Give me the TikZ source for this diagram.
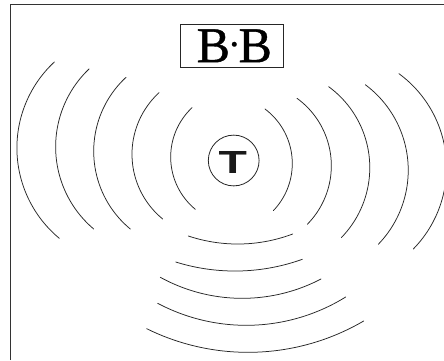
\documentclass[tikz,border=0pt]{standalone}
\usepackage{fontspec}
\usepackage{graphicx}
\setmainfont{Liberation Serif}
\newfontfamily\tfont{Liberation Sans}
\newfontfamily\titlefont[FakeBold=0.8]{Liberation Serif}
\tikzset{wave/.style={draw=black!85,line width=0.75pt,line cap=round},
  frameline/.style={draw=black!80,line width=1.1pt}}
% circular arc through three points (start, middle, end)
\newcommand{\wavearc}[6]{%
  \pgfmathsetmacro{\ax}{(#3-#1)/100}\pgfmathsetmacro{\ay}{(#4-#2)/100}%
  \pgfmathsetmacro{\bx}{(#5-#1)/100}\pgfmathsetmacro{\by}{(#6-#2)/100}%
  \pgfmathsetmacro{\dd}{2*(\ax*\by-\ay*\bx)}%
  \pgfmathsetmacro{\aa}{\ax*\ax+\ay*\ay}\pgfmathsetmacro{\bb}{\bx*\bx+\by*\by}%
  \pgfmathsetmacro{\ux}{(\by*\aa-\ay*\bb)/\dd}\pgfmathsetmacro{\uy}{(\ax*\bb-\bx*\aa)/\dd}%
  \pgfmathsetmacro{\cx}{#1+100*\ux}\pgfmathsetmacro{\cy}{#2+100*\uy}%
  \pgfmathsetmacro{\rr}{100*sqrt(\ux*\ux+\uy*\uy)}%
  \pgfmathsetmacro{\aone}{atan2(#2-\cy,#1-\cx)}%
  \pgfmathsetmacro{\atwo}{atan2(#4-\cy,#3-\cx)}%
  \pgfmathsetmacro{\athree}{atan2(#6-\cy,#5-\cx)}%
  \pgfmathsetmacro{\dthree}{mod(\athree-\aone+720,360)}%
  \pgfmathsetmacro{\dtwo}{mod(\atwo-\aone+720,360)}%
  \pgfmathsetmacro{\sweep}{\dtwo<\dthree ? \dthree : \dthree-360}%
  \pgfmathsetmacro{\aend}{\aone+\sweep}%
  \draw[wave] plot[smooth,samples=41,domain=\aone:\aend,variable=\t] ({\cx+\rr*cos(\t)},{\cy+\rr*sin(\t)});%
}
\begin{document}
\begin{tikzpicture}[x=1pt,y=-1pt]
\path[use as bounding box] (0,0) rectangle (444,360);
\clip (0,0) rectangle (444,360);
\fill[white] (0,0) rectangle (444,360);
\draw[frameline] (10.5,360) -- (10.5,4.6) -- (444,4.6);
\node[draw=black!85,line width=0.8pt,minimum width=103.4pt,minimum height=43pt,inner sep=0pt,text=black] (title) at (232,45.8) {\titlefont\fontsize{50}{50}\selectfont\hspace{4.6pt}B\kern8.5pt\llap{\raisebox{11.2pt}{\fontsize{20}{20}\selectfont\makebox[8.5pt]{•}}}B};
\node[draw=black!85,line width=0.8pt,circle,minimum size=50.8pt,inner sep=0pt] (sender) at (233.7,160.5) {};
\node[text=black!90,inner sep=0pt] (tletter) at (232.8,162.7) {\tfont\bfseries\fontsize{32}{32}\selectfont\scalebox{1.45}[1]{T}};
% left arcs
\wavearc{54.3}{62}{17}{143}{59.3}{238.3}
\wavearc{89}{69}{55.7}{143}{93.7}{229}
\wavearc{126}{77.3}{93.7}{150}{130.3}{229}
\wavearc{159}{92.7}{132}{153}{162.7}{219}
\wavearc{192}{107.7}{170.7}{155}{195.3}{209.3}
% right arcs
\wavearc{265}{109}{292.3}{163}{273.3}{210.7}
\wavearc{297}{98.3}{331.3}{163}{307.3}{224.3}
\wavearc{328.7}{86.7}{369.7}{163}{341.3}{237.7}
\wavearc{365.3}{84.7}{408}{163}{378.3}{244.3}
\wavearc{399}{73.7}{446.5}{165}{413.3}{249}
% bottom arcs
\wavearc{188.3}{236}{235.3}{244}{292.7}{234}
\wavearc{175.7}{262}{238.7}{271}{302.3}{259.3}
\wavearc{160.3}{277.3}{238.7}{298.3}{321}{279}
\wavearc{157.7}{303.3}{248.7}{325.3}{345.7}{297}
\wavearc{146.7}{328.7}{252}{352.3}{363.7}{321}
\end{tikzpicture}
\end{document}
